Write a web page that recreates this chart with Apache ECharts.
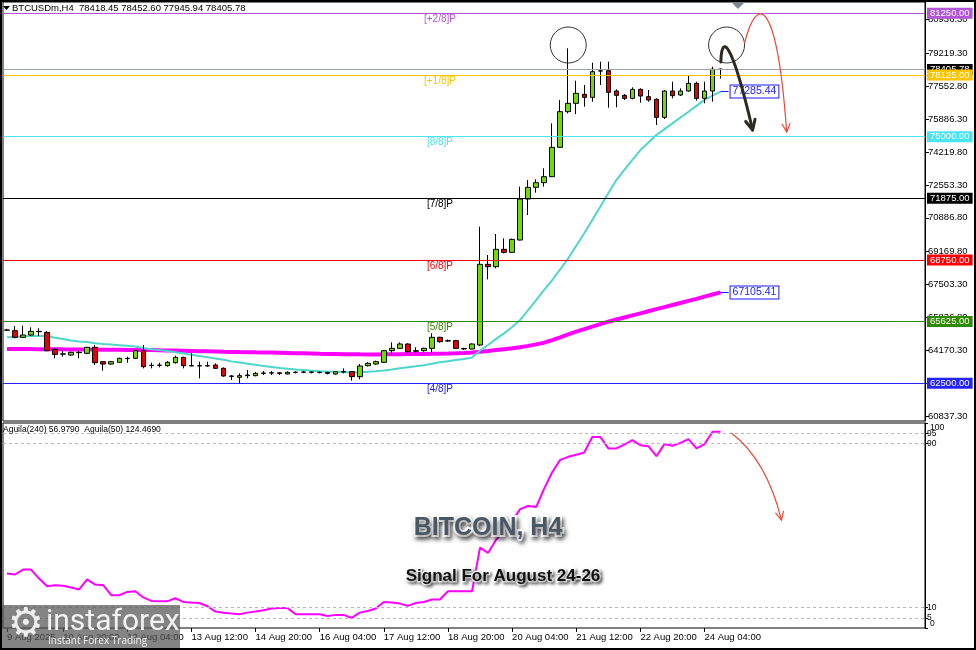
<!DOCTYPE html>
<html><head><meta charset="utf-8">
<script src="https://cdn.jsdelivr.net/npm/echarts@6/dist/echarts.min.js"></script>
<style>html,body{margin:0;padding:0;background:#fff}#c{width:976px;height:650px}</style>
</head><body><div id="c"></div>
<script>
// ---------- DATA ----------
const opens = [65190,65166,64828,64946,65132,65081,64220,63975,63932,64068,
64017,64321,63595,63476,63561,63764,63764,64152,63400,63410,
63392,63544,63814,63392,63380,63392,63426,63257,62868,62801,
62885,62885,63003,63020,63030,62970,63054,63060,63071,63054,
63050,62970,63088,63088,62834,63392,63476,63561,64152,64270,
64490,64120,64152,64270,64828,64640,64659,64260,64237,64439,
68528,68409,69288,69136,69760,71838,72430,72666,72970,74457,
76265,76687,77143,76991,78330,78342,77312,77092,76940,77396,
77025,76890,75977,77312,77109,77312,77700,76940,77312,78418.45];
const closes = [65200,64828,64946,65132,65115,64152,63966,63990,64068,64051,
64321,63544,63476,63595,63764,63750,64152,63341,63410,63420,
63561,63814,63392,63380,63392,63380,63257,62868,62850,62885,
62919,63003,63020,63030,63003,63054,63060,63071,63054,63050,
63003,63088,63071,62834,63375,63510,63595,64152,64270,64490,
64101,64152,64270,64828,64608,64659,64270,64237,64490,68528,
68409,69288,69136,69794,71838,72430,72666,72970,74457,76265,
76687,77194,76991,78292,78330,77244,77092,76940,77396,77058,
76856,75977,77312,77075,77312,77700,76940,77312,78418,78405.78];
const highs = [65260,65402,65419,65335,65284,65140,64270,64152,64101,64152,
64350,64439,63610,63620,63800,63848,64200,64439,63544,63544,
63620,63900,63848,64017,63595,63595,63510,63307,62919,63003,
63172,63070,63122,63122,63054,63100,63100,63120,63100,63100,
63080,63120,63257,63120,63476,63560,63650,64180,64574,64574,
64524,64321,64300,65030,64860,64720,64700,64300,64520,70436,
69000,70065,69845,69830,72463,72801,72835,73393,75673,76856,
79474,77836,77616,78748,78798,78798,77396,77160,77498,77447,
77363,76940,77363,77785,77447,78072,77785,77785,78545,78452.60];
const lows = [65150,64777,64794,64895,64895,64120,63764,63848,63880,63764,
63983,63426,63139,63440,63530,63544,63730,63257,63257,63307,
63340,63500,63257,63375,62750,63341,63220,62834,62665,62463,
62750,62850,62919,62919,62919,62950,63000,63010,63000,63000,
62950,62940,63003,62632,62699,63350,63440,63530,63932,64237,
63983,64017,64100,63983,64560,64590,64250,64180,64220,64380,
67767,68325,69085,69100,69740,71027,72159,72463,72950,74440,
76180,76146,76518,76772,77616,76467,76484,76856,76890,76720,
76772,75589,75893,76940,77058,77278,76822,76687,76772,77945.94];
const fastMA = [64830,64850,64870,64890,64900,64880,64810,64740,64670,64620,
64590,64530,64490,64460,64430,64400,64360,64290,64230,64180,
64130,64070,64010,63950,63880,63820,63760,63690,63610,63550,
63490,63440,63380,63330,63280,63240,63200,63170,63140,63110,
63090,63080,63070,63050,63060,63080,63110,63150,63200,63260,
63310,63360,63410,63490,63560,63620,63680,63730,63800,64160,
64440,64750,65030,65350,65710,66210,66720,67230,67730,68280,
68830,69470,70100,70780,71450,72130,72800,73310,73820,74320,
74700,75080,75380,75670,75970,76260,76560,76860,77080,77285.44];
const slowMA = [64240,64238,64235,64232,64230,64226,64222,64218,64215,64212,
64210,64206,64202,64198,64195,64192,64190,64186,64180,64172,
64165,64157,64148,64138,64128,64118,64108,64098,64090,64082,
64075,64068,64062,64055,64046,64036,64026,64016,64006,63996,
63988,63982,63976,63970,63966,63964,63964,63966,63970,63974,
63978,63982,63986,63990,63996,64005,64020,64040,64065,64100,
64140,64185,64228,64270,64330,64395,64470,64555,64690,64830,
64975,65115,65240,65370,65495,65620,65730,65835,65940,66045,
66150,66255,66360,66465,66570,66675,66780,66890,67000,67105.41];
const aguila = [26.6,26.1,28.5,28.5,24.1,20.4,20.9,20.6,19.8,18.8,
23.7,21.2,20.9,16.0,16.0,17.6,17.9,14.9,13.2,13.0,
13.0,14.5,12.7,12.4,12.2,10.6,8.0,7.4,7.1,6.7,
7.5,8.0,8.7,9.5,9.7,9.7,6.7,6.7,6.7,6.7,
5.9,6.4,6.4,4.9,7.5,8.3,9.5,12.7,12.4,11.9,
10.8,12.2,12.7,13.9,13.9,17.9,17.9,17.9,17.9,39.2,
36.6,43.0,47.0,52.0,58.0,59.5,59.0,68.0,76.0,82.0,
83.5,84.5,85.6,93.2,93.2,87.6,87.6,89.5,91.6,89.2,
88.7,83.8,89.7,88.9,90.3,92.1,87.6,89.7,95.7,95.7];
const levels = [81250, 78125, 75000, 71875, 68750, 65625, 62500];
const levelNames = ['[+2/8]P','[+1/8]P','[8/8]P','[7/8]P','[6/8]P','[5/8]P','[4/8]P'];
const lastPrice = 78405.78;
const priceTicks = [80936.30,79219.30,77552.80,75886.30,74219.80,72553.30,70886.80,69169.80,67503.30,65836.80,64170.30,62503.80,60837.30];
const subTicks = [0,5,10,90,95,100];
const subInnerLabels = [5,10,90,95];
const subEdgeLabels = [0,100];
const subGuides = [5,10,90,95];
const timeLabelIdx = [0,7,15,23,31,39,47,55,63,71,79,87];
const timeLabels = ['9 Aug 2025','10 Aug 20:00','12 Aug 04:00','13 Aug 12:00','14 Aug 20:00','16 Aug 04:00','17 Aug 12:00','18 Aug 20:00','20 Aug 04:00','21 Aug 12:00','22 Aug 20:00','24 Aug 04:00'];
const headerText = 'BTCUSDm,H4  78418.45 78452.60 77945.94 78405.78';
const subHeaderText = 'Aguila(240) 56.9790  Aguila(50) 124.4690';
const titleText = 'BITCOIN, H4';
const subtitleText = 'Signal For August 24-26';

// ---------- STYLE ----------
const FONT = '"Liberation Sans", Arial, sans-serif';
const levelColors = ['#b455d8','#ffc400','#48e4ef','#000000','#ff0000','#2e8b00','#2323ff'];
const N_SLOTS = 115;
const cats = [];
const t0 = Date.UTC(2025,7,9,16);
const mon = ['Jan','Feb','Mar','Apr','May','Jun','Jul','Aug','Sep','Oct','Nov','Dec'];
for (let i=0;i<N_SLOTS;i++){ const d=new Date(t0+i*4*3600e3); cats.push(d.getUTCDate()+' '+mon[d.getUTCMonth()]+' '+String(d.getUTCHours()).padStart(2,'0')+':00'); }
const candleData = opens.map((o,i)=>[o, closes[i], lows[i], highs[i]]);
const showIdx = (idx)=> timeLabelIdx.indexOf(idx) >= 0;

const levelLines = [{
  yAxis: lastPrice, lineStyle:{color:'#9aa2aa', width:1, type:'solid'},
  label:{show:true, position:'end', formatter: lastPrice.toFixed(2), color:'#fff', backgroundColor:'#000', padding:[1,3,0,3], distance:2, fontSize:9.5, fontFamily:FONT}
}].concat(levels.map((v,i)=>({
  yAxis: v, lineStyle:{color:levelColors[i], width:1, type:'solid'},
  label:{show:true, position:'end', formatter: v.toFixed(2), color:'#fff', backgroundColor:levelColors[i], padding:[1,3,0,3], distance:2, fontSize:9.5, fontFamily:FONT}
})));
const maLabel = (v)=>[{coord:[89, v], lineStyle:{color:'#1a1aff', width:1, type:'solid'}},{coord:[90, v],
  label:{show:true, position:'end', formatter: v.toFixed(2), color:'#1a1aff', backgroundColor:'#fff', borderColor:'#1a1aff', borderWidth:1, padding:[1,2,0,2], distance:2, fontSize:10.5, fontFamily:FONT}}];

const option = {
  animation:false,
  backgroundColor:'#fff',
  textStyle:{fontFamily:FONT},
  grid:[
    {left:3, top:2, width:922, height:419, show:true, borderColor:'#000', borderWidth:1},
    {left:3, top:423, width:922, height:205, show:true, borderColor:'#000', borderWidth:1}
  ],
  xAxis:[
    {type:'category', gridIndex:0, data:cats, boundaryGap:true, axisLine:{show:false}, axisTick:{show:false}, axisLabel:{show:false}, splitLine:{show:false}},
    {type:'category', gridIndex:1, data:cats, boundaryGap:true, axisLine:{show:false},
     axisTick:{show:true, alignWithLabel:true, interval:(i)=>showIdx(i), length:4, lineStyle:{color:'#000'}},
     axisLabel:{interval:(i)=>showIdx(i), formatter:(v,i)=>{const k=timeLabelIdx.indexOf(i); return k>=0?timeLabels[k]:'';}, align:'left', fontSize:9.5, color:'#000', margin:4},
     splitLine:{show:false}}
  ],
  yAxis:[
    {type:'value', gridIndex:0, position:'right', min:60588, max:81823, scale:true,
     axisLine:{show:true, lineStyle:{color:'#000'}},
     axisTick:{show:true, customValues:priceTicks, length:4, lineStyle:{color:'#000'}},
     axisLabel:{customValues:priceTicks, formatter:(v)=>Number(v).toFixed(2), fontSize:9.5, color:'#000', margin:3},
     splitLine:{show:false}},
    {type:'value', gridIndex:1, position:'right', min:0, max:100,
     axisLine:{show:true, lineStyle:{color:'#000'}},
     axisTick:{show:true, customValues:subTicks, length:3, lineStyle:{color:'#000'}},
     axisLabel:{customValues:subInnerLabels, fontSize:8.5, color:'#000', margin:2},
     splitLine:{show:false}},
    {type:'value', gridIndex:1, position:'right', min:0, max:100, offset:0,
     axisLine:{show:false}, axisTick:{show:false},
     axisLabel:{customValues:subEdgeLabels, showMinLabel:true, showMaxLabel:true, fontSize:8.5, color:'#000', margin:5, verticalAlignMinLabel:'bottom', verticalAlignMaxLabel:'top'},
     splitLine:{show:false}}
  ],
  series:[
    {name:'slow', type:'line', xAxisIndex:0, yAxisIndex:0, data:slowMA, symbol:'none', z:2,
     lineStyle:{color:'#ff00ff', width:4}, silent:true,
     markLine:{silent:true, symbol:['none','none'], animation:false, data: levelLines.concat([maLabel(slowMA[slowMA.length-1])])},
     markPoint:{silent:true, animation:false, data: levels.map((v,i)=>({coord:[54, v], symbol:'circle', symbolSize:0,
        label:{show:true, position:'bottom', distance:1, formatter:levelNames[i], color:levelColors[i], fontSize:10, fontFamily:FONT}}))}
    },
    {name:'fast', type:'line', xAxisIndex:0, yAxisIndex:0, data:fastMA, symbol:'none', z:2,
     lineStyle:{color:'#4fd6cc', width:2}, silent:true,
     markLine:{silent:true, symbol:['none','none'], animation:false, data:[maLabel(fastMA[fastMA.length-1])]}
    },
    {name:'BTCUSDm', type:'candlestick', xAxisIndex:0, yAxisIndex:0, data:candleData, z:3, barWidth:5, silent:true,
     itemStyle:{color:'#6fdc00', color0:'#e80000', borderColor:'#000', borderColor0:'#000', borderColorDoji:'#000', borderWidth:1}},
    {name:'Aguila', type:'line', xAxisIndex:1, yAxisIndex:1, data:aguila, symbol:'none', z:2,
     lineStyle:{color:'#ff00ff', width:2}, silent:true,
     markLine:{silent:true, symbol:['none','none'], animation:false, label:{show:false},
       lineStyle:{color:'#b8b8b8', width:1, type:[3,3]}, data: subGuides.map(v=>({yAxis:v}))}}
  ]
};

const chart = echarts.init(document.getElementById('c'));
chart.setOption(option);

// ---------- ANNOTATIONS (positions through the chart's own scales) ----------
function px(g, idx, val){
  const i0 = Math.floor(idx);
  const a = chart.convertToPixel({gridIndex:g}, [i0, val]);
  const b = chart.convertToPixel({gridIndex:g}, [i0+1, val]);
  return [a[0] + (idx-i0)*(b[0]-a[0]), a[1]];
}
function head(tip, from, len, color, w){
  const ang = Math.atan2(tip[1]-from[1], tip[0]-from[0]);
  const a1 = ang + Math.PI - 0.45, a2 = ang + Math.PI + 0.45;
  return {type:'polyline', z:101, shape:{points:[[tip[0]+len*Math.cos(a1), tip[1]+len*Math.sin(a1)], tip, [tip[0]+len*Math.cos(a2), tip[1]+len*Math.sin(a2)]]},
    style:{stroke:color, lineWidth:w, fill:null, lineCap:'round', lineJoin:'round'}};
}
function cubic(p0,p1,p2,p3,color,w){
  return {type:'bezierCurve', z:100, shape:{x1:p0[0],y1:p0[1],cpx1:p1[0],cpy1:p1[1],cpx2:p2[0],cpy2:p2[1],x2:p3[0],y2:p3[1]},
    style:{stroke:color, lineWidth:w, fill:null, lineCap:'round'}};
}
function quad(p0,p1,p3,color,w){
  return {type:'bezierCurve', z:100, shape:{x1:p0[0],y1:p0[1],cpx1:p1[0],cpy1:p1[1],x2:p3[0],y2:p3[1]},
    style:{stroke:color, lineWidth:w, fill:null, lineCap:'round'}};
}
const c1 = px(0, 70, 79643), c2 = px(0, 89.75, 79643);
const bA = [px(0,89.04,78782), px(0,89.1,80100), px(0,90.2,80200), px(0,93.0,75336)];
const rA = [px(0,92,79745), px(0,93.5,82177), px(0,96,82177), px(0,97.25,75234)];
const lA = [px(1,90.375,95.0), px(1,94.75,81.9), px(1,96.6,52.6)];
const txt = (text, x, y, font, fill, align, extra, z)=>({type:'text', x, y, z:z||110,
  style:Object.assign({text, font, fill, align:align||'left', verticalAlign:'middle', textAlign:align||'left', textVerticalAlign:'middle'}, extra||{})});

chart.setOption({graphic:[
  {type:'rect', z:140, shape:{x:1,y:1,width:974,height:648}, style:{stroke:'#000', lineWidth:2, fill:null}},
  {type:'polygon', z:110, shape:{points:[[3,6],[10,6],[6.5,10]]}, style:{fill:'#000'}},
  txt(headerText, 12, 8, '9.5px '+FONT, '#000'),
  txt(subHeaderText, 3, 430, '8.5px '+FONT, '#000'),
  {type:'polygon', z:110, shape:{points:[[732,3],[744,3],[738,9]]}, style:{fill:'#7b8794'}},
  {type:'circle', z:100, shape:{cx:c1[0], cy:c1[1], r:18}, style:{stroke:'#333', lineWidth:1, fill:null}},
  {type:'circle', z:100, shape:{cx:c2[0], cy:c2[1], r:18}, style:{stroke:'#333', lineWidth:1, fill:null}},
  cubic(bA[0],bA[1],bA[2],bA[3],'#2d2a1e',3), head(bA[3], bA[2], 11, '#2d2a1e', 3),
  cubic(rA[0],rA[1],rA[2],rA[3],'#ee4433',1.2), head(rA[3], rA[2], 9, '#ee4433', 1.2),
  quad(lA[0],lA[1],lA[2],'#ee4433',1.2), head(lA[2], lA[1], 9, '#ee4433', 1.2),
  txt(titleText, 488, 528, 'bold 25px '+FONT, '#4a5866', 'center',
      {stroke:'#fff', lineWidth:4, strokeFirst:true, textShadowColor:'rgba(0,0,0,0.5)', textShadowBlur:4, textShadowOffsetX:2, textShadowOffsetY:3}),
  txt(subtitleText, 503, 576, 'bold 17px '+FONT, '#111', 'center',
      {stroke:'#fff', lineWidth:3, strokeFirst:true, textShadowColor:'rgba(0,0,0,0.45)', textShadowBlur:3, textShadowOffsetX:2, textShadowOffsetY:2}),
  {type:'rect', z:130, shape:{x:0,y:605,width:180,height:45}, style:{fill:'rgba(85,85,85,0.72)'}},
  txt('\u2699', 26, 626, '40px "DejaVu Sans"', '#eeeeee', 'center', null, 131),
  txt('instaforex', 46, 622, '30px Roboto', '#f2f2f2', 'left', null, 131),
  txt('Instant Forex Trading', 48, 641, '10px "Open Sans"', '#f2f2f2', 'left', null, 131)
]});
</script>
</body></html>
